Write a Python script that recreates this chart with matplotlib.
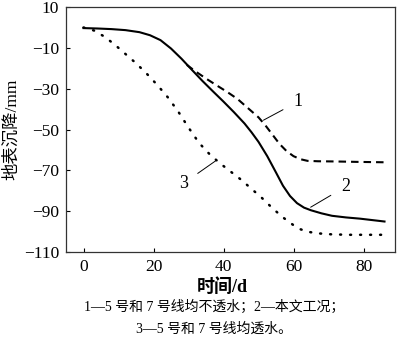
import numpy as np
import matplotlib
matplotlib.use('Agg')
from matplotlib import pyplot as plt

plt.rcParams['font.family'] = ['Liberation Serif', 'Noto Sans CJK SC']
plt.rcParams['axes.unicode_minus'] = True

# settlement curves (day, mm)
days_2 = [0, 4, 8, 12, 16, 19, 22, 25, 28, 31, 34, 37, 40, 43, 46, 48, 50,
          52.5, 55, 57, 59, 61, 63, 65, 68, 71, 75, 79, 83, 86]
settle_2 = [-0.3, -0.5, -0.8, -1.3, -2.3, -3.8, -6.2, -10.3, -15.3, -20.8,
            -26.2, -31.3, -36.3, -41.5, -47, -51.3, -56, -63, -71, -77.5,
            -82.5, -86, -88.2, -89.5, -91, -92.2, -93, -93.6, -94.4, -95]

days_1 = [29.5, 32, 35, 38, 41, 44, 47, 50, 52, 54, 56, 58, 60, 62, 64, 67,
          72, 78, 86]
settle_1 = [-18.3, -21.5, -25, -28.3, -31.5, -35, -39.5, -44, -48, -52.5,
            -57, -60.5, -63, -64.5, -65.3, -65.5, -65.6, -65.8, -66]

days_3 = [0, 3, 6, 9, 12, 15, 18, 21, 24, 27, 30, 33, 36, 39, 42, 45, 48, 51,
          54, 57, 60, 62, 64, 67, 71, 76, 86]
settle_3 = [0, -1.5, -4.5, -8.5, -13, -17.5, -22.5, -28, -34, -41, -49,
            -56.5, -62, -66.5, -70.5, -74.5, -79, -83.5, -88.5, -93, -96.8,
            -98.8, -100, -100.8, -101.3, -101.5, -101.5]

x_ticks = [0, 20, 40, 60, 80]
y_ticks = [10, -10, -30, -50, -70, -90, -110]

fig = plt.figure(figsize=(4.0, 3.44), dpi=100)
ax = fig.add_axes([0.165, 0.267, 0.8225, 0.7125])

ax.plot(days_2, settle_2, color='black', lw=1.5, solid_joinstyle='round')
ax.plot(days_1, settle_1, color='black', lw=1.5, linestyle=(0, (3.6, 2.4)))
ax.plot(days_3, settle_3, color='black', lw=1.8, linestyle=(0, (0.4, 3.6)),
        dash_capstyle='round')

# curve labels with leader lines
def tag(text, xy, xytext):
    ax.annotate(text, xy=xy, xytext=xytext, fontsize=13,
                ha='center', va='center',
                arrowprops=dict(arrowstyle='-', color='black', lw=0.7,
                                shrinkA=6, shrinkB=0))

tag('1', (51.4, -45.4), (61.2, -36.4))
tag('2', (64.9, -88), (74.8, -78.0))
tag('3', (38, -65), (28.6, -76.3))

ax.set_xlim(-5, 89)
ax.set_ylim(-110, 10)
ax.set_xticks(x_ticks)
ax.set_yticks(y_ticks)
ax.tick_params(direction='in', length=3, width=0.8, labelsize=12.5, pad=5)
for s in ax.spines.values():
    s.set_linewidth(0.9)
    s.set_color('#333333')

ax.set_ylabel('地表沉降/mm', fontsize=12.5, labelpad=3)
fig.text(0.555, 0.165, '时间/d', fontsize=13, fontweight='bold',
         ha='center', va='center')
fig.text(0.535, 0.108, '1—5 号和 7 号线均不透水；2—本文工况；', fontsize=10,
         ha='center', va='center')
fig.text(0.535, 0.042, '3—5 号和 7 号线均透水。', fontsize=10,
         ha='center', va='center')

fig.savefig('out.png', dpi=100)
